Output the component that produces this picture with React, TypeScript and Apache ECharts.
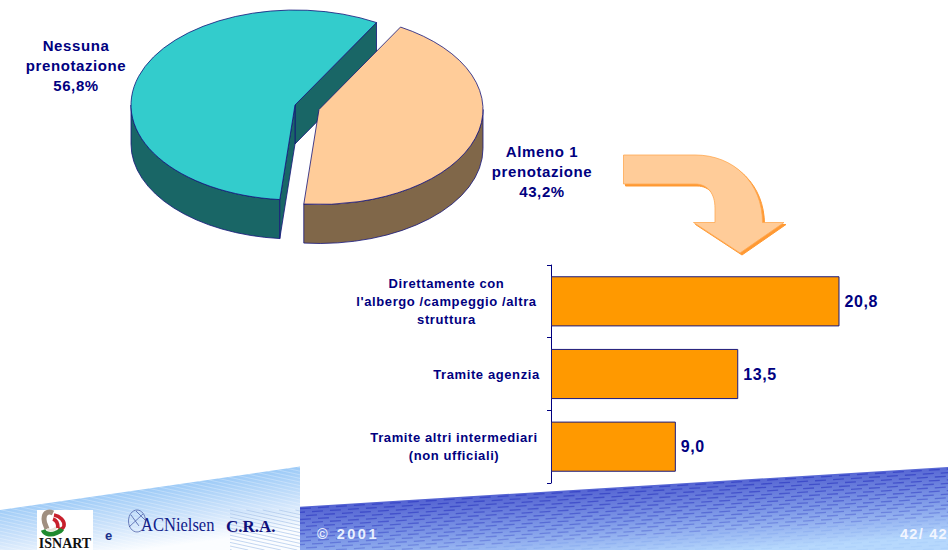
import React, { useEffect, useRef } from "react";
import * as echarts from "echarts";

const pieNames = ["Nessuna\nprenotazione", "Almeno 1\nprenotazione"];
const pieValues = [56.8, 43.2];
const barCategories = [
  "Direttamente con\nl'albergo /campeggio /altra\nstruttura",
  "Tramite agenzia",
  "Tramite altri intermediari\n(non ufficiali)",
];
const barValues = [20.8, 13.5, 9.0];
const footerYear = "© 2001";
const footerPage = "42/ 42";

const NAVY = "#000080";
const SANS = "'Liberation Sans', Arial, sans-serif";
const SERIF = "'Liberation Serif', serif";
const comma = (v: number) => v.toFixed(1).replace(".", ",");

// Pie geometry
const START_ANGLE = 60.2;
const RX = 164;
const RY = 95;
const DEPTH = 39;
const sliceCentres = [[295, 105], [319, 109.5]];
const sliceTop = ["#33CCCC", "#FFCC99"];
const sliceSide = ["#196666", "#806749"];
const PIE_LINE = "#14147a";

echarts.graphic.registerShape(
  "bigArrow",
  echarts.graphic.extendPath(
    "M623.5 155 L695 155 C734 155 762.5 183 762.5 222.5 L784 222.5 L740 253 L693.5 222.5 L715 222.5 L715 208 C715 194 708 184 695 184 L623.5 184 Z",
    {}
  )
);
echarts.graphic.registerShape("logoGrey", echarts.graphic.extendPath("M53 513 C47 510 44 514 44 519 C44 523 46 526 47 529", {}));
echarts.graphic.registerShape("logoRed", echarts.graphic.extendPath("M54 515 C60 516 65 521 64 526 C63 529 60 530 58 529 M53 519 C56 520 58 523 58 528", {}));
echarts.graphic.registerShape("logoGreen", echarts.graphic.extendPath("M43 530 C45 535 52 535 56 533 C59 532 61 531 62 529", {}));
echarts.graphic.registerShape("logoCream", echarts.graphic.extendPath("M47 529 C50 531 54 530 57 527", {}));

const rad = (d: number) => (d * Math.PI) / 180;

function renderSlice(params: any, api: any) {
  const idx = params.dataIndex;
  let before = 0;
  for (let i = 0; i < idx; i++) before += pieValues[i];
  const total = pieValues.reduce((a, b) => a + b, 0);
  const start = START_ANGLE + (before / total) * 360;
  const end = start + (api.value(0) / total) * 360;
  const [cx, cy] = sliceCentres[idx];
  const P = (t: number, dy = 0) => [cx + RX * Math.cos(rad(t)), cy - RY * Math.sin(rad(t)) + dy];
  const pt = (p: number[]) => `${p[0].toFixed(2)} ${p[1].toFixed(2)}`;
  const lineStyle = { stroke: PIE_LINE, lineWidth: 0.8 };
  const children: any[] = [];

  const cutFace = (t: number, normal: number) => {
    if (Math.sin(rad(normal)) >= 0) return;
    children.push({
      type: "path",
      shape: { pathData: `M${cx} ${cy} L${pt(P(t))} L${pt(P(t, DEPTH))} L${cx} ${cy + DEPTH} Z` },
      style: { fill: sliceSide[idx], ...lineStyle },
    });
  };
  cutFace(start, start - 90);
  // outer wall: only the lower half of the ellipse faces the viewer
  const ranges = [[180, 360], [540, 720]];
  for (const [lo, hi] of ranges) {
    const a = Math.max(start, lo);
    const b = Math.min(end, hi);
    if (b > a) {
      children.push({
        type: "path",
        shape: {
          pathData:
            `M${pt(P(a))} A${RX} ${RY} 0 0 0 ${pt(P(b))} L${pt(P(b, DEPTH))} A${RX} ${RY} 0 0 1 ${pt(P(a, DEPTH))} Z`,
        },
        style: { fill: sliceSide[idx], ...lineStyle },
      });
    }
  }
  cutFace(end, end + 90);
  const large = end - start > 180 ? 1 : 0;
  children.push({
    type: "path",
    shape: { pathData: `M${cx} ${cy} L${pt(P(start))} A${RX} ${RY} 0 ${large} 0 ${pt(P(end))} Z` },
    style: { fill: sliceTop[idx], ...lineStyle },
  });
  return { type: "group", children };
}

function footerGraphics() {
  const els: any[] = [];
  // left pale band
  els.push({
    type: "polygon",
    silent: true,
    shape: { points: [[0, 510], [300, 466.5], [300, 550], [0, 550]] },
    style: {
      fill: {
        type: "linear", global: true, x: 150, y: 488, x2: 158, y2: 548,
        colorStops: [
          { offset: 0, color: "#9ecbf7" },
          { offset: 0.55, color: "#cfe4fb" },
          { offset: 1, color: "#fbfdff" },
        ],
      },
    },
  });
  for (let c = 380; c < 560; c += 3.6) {
    const slope = 0.22;
    const x0 = Math.max(0, (510 - c) / (slope + 0.145));
    const x1 = 300;
    if (x0 >= x1) continue;
    els.push({
      type: "line", silent: true,
      shape: { x1: x0, y1: c + slope * x0, x2: x1, y2: c + slope * x1 },
      style: { stroke: "#ffffff", opacity: 0.28, lineWidth: 1 },
    });
  }
  // patch of darker hatching behind C.R.A.
  for (let c = 445; c < 535; c += 3.6) {
    const slope = 0.22;
    const xa = Math.max(230, (510 - c) / slope);
    const xb = Math.min(300, (550 - c) / slope);
    if (xb <= xa) continue;
    els.push({
      type: "line", silent: true,
      shape: { x1: xa, y1: c + slope * xa, x2: xb, y2: c + slope * xb },
      style: { stroke: "#9dbde8", opacity: 0.6, lineWidth: 1 },
    });
  }
  // right dark band
  els.push({
    type: "polygon",
    silent: true,
    shape: { points: [[300, 506.7], [948, 467], [948, 550], [300, 550]] },
    style: {
      fill: {
        type: "linear", global: true, x: 600, y: 487, x2: 605, y2: 560,
        colorStops: [
          { offset: 0, color: "#5463d2" },
          { offset: 0.5, color: "#7f9ae8" },
          { offset: 1, color: "#b6d8fd" },
        ],
      },
    },
  });
  for (let k = 0; k < 26; k++) {
    const off = 2 + k * 3.6;
    const alpha = Math.max(0.08, 0.8 - k * 0.04);
    els.push({
      type: "line", silent: true,
      shape: { x1: 300, y1: 506.7 + off, x2: 948, y2: 467 + off },
      style: {
        stroke: k < 14 ? "#3340c4" : "#5f86e6",
        opacity: alpha,
        lineWidth: 1.3,
        lineDash: [11, 7],
        lineDashOffset: k * 6,
      },
    });
  }
  // ISNART logo
  els.push({ type: "rect", silent: true, shape: { x: 37, y: 510, width: 56, height: 40 }, style: { fill: "#ffffff" } });
  els.push({ type: "logoGrey", silent: true, x: 0, y: 0, style: { fill: "none", stroke: "#a08f80", lineWidth: 5 } });
  els.push({ type: "logoCream", silent: true, x: 0, y: 0, style: { fill: "none", stroke: "#e8e4d8", lineWidth: 2.5 } });
  els.push({ type: "logoRed", silent: true, x: 0, y: 0, style: { fill: "none", stroke: "#c8202c", lineWidth: 3.6 } });
  els.push({ type: "logoGreen", silent: true, x: 0, y: 0, style: { fill: "none", stroke: "#1f8a2e", lineWidth: 4.6 } });
  els.push({ type: "text", silent: true, x: 65, y: 543.5, style: { text: "ISNART", font: `bold 14px ${SERIF}`, fill: "#111111", align: "center", verticalAlign: "middle" } });
  els.push({ type: "text", silent: true, x: 109, y: 535, style: { text: "e", font: `bold 13px ${SANS}`, fill: "#1a2f8a", align: "center", verticalAlign: "middle" } });
  // ACNielsen globe
  els.push({ type: "ellipse", silent: true, shape: { cx: 137, cy: 521, rx: 8.5, ry: 11 }, style: { fill: "none", stroke: "#3c4f9e", lineWidth: 0.7 } });
  els.push({ type: "line", silent: true, shape: { x1: 129, y1: 527, x2: 143, y2: 514 }, style: { stroke: "#3c4f9e", lineWidth: 0.7 } });
  els.push({ type: "line", silent: true, shape: { x1: 131, y1: 515, x2: 139, y2: 526 }, style: { stroke: "#3c4f9e", lineWidth: 0.7 } });
  els.push({ type: "line", silent: true, shape: { x1: 136, y1: 511, x2: 145, y2: 520 }, style: { stroke: "#3c4f9e", lineWidth: 0.7 } });
  els.push({ type: "text", silent: true, x: 141, y: 525, scaleX: 0.87, style: { text: "ACNielsen", font: `19px ${SERIF}`, fill: "#10208a", align: "left", verticalAlign: "middle" } });
  els.push({ type: "text", silent: true, x: 226, y: 526, style: { text: "C.R.A.", font: `bold 17px ${SERIF}`, fill: "#10107a", align: "left", verticalAlign: "middle" } });
  els.push({ type: "text", silent: true, x: 317, y: 534, style: { text: footerYear, font: `bold 14.5px ${SANS}`, fill: "#e8f0ff", align: "left", verticalAlign: "middle" } });
  els.push({ type: "text", silent: true, x: 900, y: 534, style: { text: footerPage, font: `bold 14.6px ${SANS}`, fill: "#f2f6ff", align: "left", verticalAlign: "middle" } });
  return els;
}

function arrowGraphics() {
  return [
    { type: "bigArrow", silent: true, x: 2, y: 2, style: { fill: "#ff9933", stroke: "#ff9933", lineWidth: 1 } },
    { type: "bigArrow", silent: true, x: 0, y: 0, style: { fill: "#ffcc99", stroke: "#ffa850", lineWidth: 0.8 } },
  ];
}

function pieLabel(i: number, x: number, y: number) {
  return {
    type: "text", silent: true, x, y,
    style: {
      text: `${pieNames[i]}\n${comma(pieValues[i])}%`,
      font: `bold 15px ${SANS}`,
      fill: NAVY,
      align: "center",
      verticalAlign: "top",
      lineHeight: 20,
    },
  };
}

export default function App() {
  const ref = useRef<HTMLDivElement>(null);
  useEffect(() => {
    const chart = echarts.init(ref.current!, null, { renderer: "svg" });
    const richBase = { align: "center", fontFamily: SANS, fontWeight: "bold", fontSize: 13, color: NAVY, lineHeight: 18 };
    chart.setOption({
      animation: false,
      backgroundColor: "#ffffff",
      graphic: { elements: [...footerGraphics(), ...arrowGraphics(), pieLabel(0, 76, 35), pieLabel(1, 542, 141)] },
      grid: { left: 551, top: 265, width: 346.75, height: 218, containLabel: false },
      xAxis: { type: "value", min: 0, max: 25, show: false },
      yAxis: {
        type: "category",
        inverse: true,
        data: barCategories,
        axisLine: { lineStyle: { color: NAVY, width: 1 } },
        axisTick: { show: true, length: 4, lineStyle: { color: NAVY, width: 1 } },
        axisLabel: {
          margin: 11,
          interval: 0,
          formatter: (v: string, i: number) => v.split("\n").map((l) => `{k${i}|${l}}`).join("\n"),
          rich: {
            k0: { ...richBase, width: 187 },
            k1: { ...richBase, width: 107 },
            k2: { ...richBase, width: 172 },
          },
        },
      },
      series: [
        {
          type: "bar",
          data: barValues,
          barCategoryGap: "31%",
          itemStyle: { color: "#ff9900", borderColor: "#1a1a80", borderWidth: 1 },
          label: {
            show: true,
            position: "right",
            distance: 5,
            formatter: (p: any) => comma(p.value),
            fontFamily: SANS,
            fontWeight: "bold",
            fontSize: 16,
            color: NAVY,
          },
        },
        {
          type: "custom",
          coordinateSystem: "none",
          data: pieValues.map((v) => [v]),
          renderItem: renderSlice,
          silent: true,
        },
      ],
    });
    return () => chart.dispose();
  }, []);
  return (
    <>
      <style>{`body{margin:0} #root text{letter-spacing:.6px} #root text[style*="Serif"]{letter-spacing:0} #root text[style*="14.5px"]{letter-spacing:2.5px} #root text[style*="14.6px"]{letter-spacing:1.2px}`}</style>
      <div ref={ref} style={{ position: "absolute", left: 0, top: 0, width: 948, height: 550 }} />
    </>
  );
}
